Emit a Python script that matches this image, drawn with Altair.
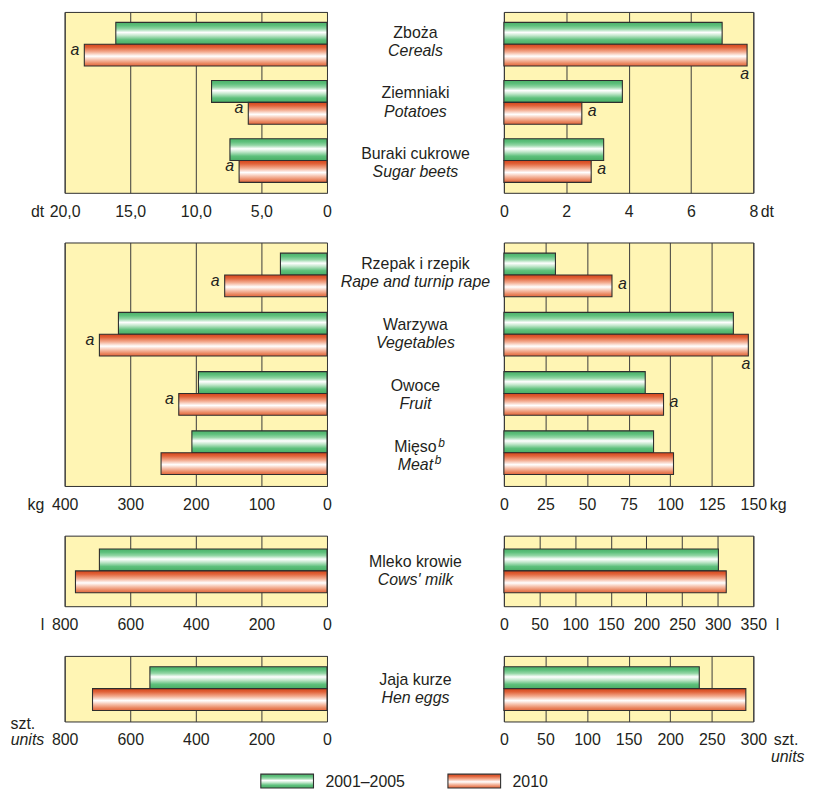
import altair as alt
import pandas as pd

FONT = "Liberation Sans"
TXT = "#231f20"
GRID = "#3a3a3a"
PANEL_BG = "#fff5b4"
EDGE = "#2e2e2e"

SERIES = ["2001–2005", "2010"]

cat_pl = ["Zboża", "Ziemniaki", "Buraki cukrowe", "Rzepak i rzepik", "Warzywa",
          "Owoce", "Mięso", "Mleko krowie", "Jaja kurze"]
cat_en = ["Cereals", "Potatoes", "Sugar beets", "Rape and turnip rape", "Vegetables",
          "Fruit", "Meat", "Cows' milk", "Hen eggs"]
cat_sup = ["", "", "", "", "", "", "b", "", ""]
cat_group = [1, 1, 1, 2, 2, 2, 2, 3, 4]

left_2001_2005 = [16.1, 8.8, 7.4, 71, 318, 196, 206, 694, 540]
left_2010 = [18.5, 6.0, 6.7, 156, 347, 226, 253, 767, 715]
right_2001_2005 = [7.0, 3.8, 3.2, 31, 138, 85, 90, 301, 235]
right_2010 = [7.8, 2.5, 2.8, 65, 147, 96, 102, 312, 291]

# footnote "a" on the 2010 bars ("a" beside the bar end, "a_below" under it)
note_left = ["a", "a", "a", "a", "a", "a", "", "", ""]
note_right = ["a_below", "a", "a", "a", "a_below", "a", "", "", ""]

left_domain = {1: [0, 20], 2: [0, 400], 3: [0, 800], 4: [0, 800]}
left_ticks = {1: [0, 5, 10, 15, 20], 2: [0, 100, 200, 300, 400],
              3: [0, 200, 400, 600, 800], 4: [0, 200, 400, 600, 800]}
right_domain = {1: [0, 8], 2: [0, 150], 3: [0, 350], 4: [0, 300]}
right_ticks = {1: [0, 2, 4, 6, 8], 2: [0, 25, 50, 75, 100, 125, 150],
               3: [0, 50, 100, 150, 200, 250, 300, 350], 4: [0, 50, 100, 150, 200, 250, 300]}
unit_main = {1: "dt", 2: "kg", 3: "l", 4: "szt."}
unit_sub = "units"

# ---------------- long table ----------------
rows = []
for i, c in enumerate(cat_pl):
    for side, v1, v2, notes in (("left", left_2001_2005, left_2010, note_left),
                                ("right", right_2001_2005, right_2010, note_right)):
        rows.append(dict(cat=c, group=cat_group[i], side=side, series=SERIES[0], value=v1[i], note=""))
        rows.append(dict(cat=c, group=cat_group[i], side=side, series=SERIES[1], value=v2[i], note=notes[i]))
df = pd.DataFrame(rows)
lab = pd.DataFrame(dict(cat=cat_pl, en=cat_en, sup=cat_sup, group=cat_group))

HEIGHT = {1: 182, 2: 245, 3: 71, 4: 66}
PADS = {1: (0.25, 0.18), 2: (0.25, 0.18), 3: (0.0, 0.307), 4: (0.0, 0.25)}
WL, WC, WR = 264, 178, 251


def grad(stops):
    return alt.LinearGradient(gradient="linear", x1=0, x2=0, y1=0, y2=1,
                              stops=[alt.GradientStop(offset=o, color=c) for o, c in stops])


G_GREEN = grad([(0, "#4cb169"), (0.15, "#5ec07c"), (0.3, "#93d6a5"), (0.46, "#ffffff"),
                (0.6, "#c4e8cd"), (0.8, "#5ec07c"), (1, "#49ad65")])
G_ORANGE = grad([(0, "#d5441a"), (0.15, "#e1633a"), (0.35, "#f3ab8f"), (0.55, "#ffffff"),
                 (0.72, "#f6c0aa"), (0.88, "#ea8862"), (1, "#e1653c")])


def y_enc(group, axis=None):
    cats = [c for c, g in zip(cat_pl, cat_group) if g == group]
    pi, po = PADS[group]
    return alt.Y("cat:N", sort=cats,
                 scale=alt.Scale(domain=cats, paddingInner=pi, paddingOuter=po),
                 axis=axis)


def axis_common(**kw):
    base = dict(grid=True, gridColor=GRID, gridWidth=1, gridOpacity=1, domain=False, ticks=False,
                labelFlush=False, labelOverlap=False, labelPadding=23.5, labelBaseline="alphabetic",
                labelFontSize=16, labelColor=TXT, labelFont=FONT,
                titleFontSize=16, titleFontWeight="normal", titleColor=TXT, titleFont=FONT,
                titleAngle=0, titleBaseline="alphabetic")
    base.update(kw)
    return alt.Axis(**base)


def panel(group, side):
    H = HEIGHT[group]
    W = WL if side == "left" else WR
    d = df[(df.group == group) & (df.side == side)]
    if side == "left":
        dom, ticks = left_domain[group], left_ticks[group]
        expr = ("datum.value == 0 ? '0' : replace(format(datum.value, '.1f'), '.', ',')"
                if group == 1 else "format(datum.value, 'd')")
        if group == 4:
            xaxis = axis_common(values=ticks, labelExpr=expr, title=unit_sub, titleFontStyle="italic",
                                titleX=-21, titleY=23.5, titleAlign="right")
            yaxis = alt.Axis(labels=False, ticks=False, domain=False, grid=False, title=unit_main[4],
                             titleAngle=0, titleX=-55, titleY=H + 7, titleAlign="left",
                             titleBaseline="alphabetic", titleFontSize=16, titleFontWeight="normal",
                             titleColor=TXT, titleFont=FONT)
        else:
            xaxis = axis_common(values=ticks, labelExpr=expr, title=unit_main[group],
                                titleX=-21, titleY=23.5, titleAlign="right")
            yaxis = None
    else:
        dom, ticks = right_domain[group], right_ticks[group]
        expr = "format(datum.value, 'd')"
        off = {1: 7, 2: 16, 3: 22, 4: 20}[group]
        xaxis = axis_common(values=ticks, labelExpr=expr, title=unit_main[group],
                            titleX=W + off, titleY=23.5, titleAlign="left")
        if group == 4:
            yaxis = alt.Axis(orient="right", labels=False, ticks=False, domain=False, grid=False,
                             title=unit_sub, titleFontStyle="italic", titleAngle=0, titleX=51,
                             titleY=H + 40, titleAlign="right", titleBaseline="alphabetic",
                             titleFontSize=16, titleFontWeight="normal", titleColor=TXT, titleFont=FONT)
        else:
            yaxis = None

    base = alt.Chart(d).encode(
        y=y_enc(group, yaxis),
        yOffset=alt.YOffset("series:N", sort=SERIES,
                            scale=alt.Scale(domain=SERIES, paddingInner=0, paddingOuter=0)),
        x=alt.X("value:Q", scale=alt.Scale(domain=dom, reverse=(side == "left"), nice=False, zero=True),
                axis=xaxis),
    )
    b1 = base.transform_filter(alt.datum.series == SERIES[0]).mark_bar(
        fill=G_GREEN, stroke=EDGE, strokeWidth=1.1)
    b2 = base.transform_filter(alt.datum.series == SERIES[1]).mark_bar(
        fill=G_ORANGE, stroke=EDGE, strokeWidth=1.1)
    layers = [b1, b2]
    if side == "left":
        layers.append(base.transform_filter(alt.datum.note == "a").mark_text(
            text="a", fontStyle="italic", fontSize=16, font=FONT, color=TXT,
            align="right", baseline="middle", dx=-5, dy=-5))
    else:
        layers.append(base.transform_filter(alt.datum.note == "a").mark_text(
            text="a", fontStyle="italic", fontSize=16, font=FONT, color=TXT,
            align="left", baseline="middle", dx=6, dy=-2))
        layers.append(base.transform_filter(alt.datum.note == "a_below").mark_text(
            text="a", fontStyle="italic", fontSize=16, font=FONT, color=TXT,
            align="right", baseline="middle", dx=2, dy=19))
    return alt.layer(*layers).properties(
        width=W, height=H,
        view=alt.ViewBackground(fill=PANEL_BG, stroke=EDGE, strokeWidth=1))


def center(group):
    d = lab[lab.group == group]
    base = alt.Chart(d).encode(y=y_enc(group))
    pl = base.mark_text(fontSize=16, font=FONT, color=TXT, baseline="alphabetic", dy=-4).encode(text="cat:N")
    en = base.mark_text(fontSize=16, font=FONT, color=TXT, fontStyle="italic",
                        baseline="alphabetic", dy=14.5).encode(text="en:N")
    s1 = base.transform_filter(alt.datum.sup != "").mark_text(
        fontSize=12, font=FONT, color=TXT, fontStyle="italic", align="left",
        baseline="alphabetic", dx=23, dy=-9).encode(text="sup:N")
    s2 = base.transform_filter(alt.datum.sup != "").mark_text(
        fontSize=12, font=FONT, color=TXT, fontStyle="italic", align="left",
        baseline="alphabetic", dx=19.5, dy=8.5).encode(text="sup:N")
    return alt.layer(pl, en, s1, s2).properties(
        width=WC, height=HEIGHT[group],
        view=alt.ViewBackground(stroke="transparent", strokeWidth=0))


def legend():
    ld = pd.DataFrame(dict(series=SERIES))
    base = alt.Chart(ld).encode(
        x=alt.X("series:N", sort=SERIES, axis=None,
                scale=alt.Scale(domain=SERIES, range=[197.4, 438.7], paddingInner=0.7185, paddingOuter=0)))
    sw = base.mark_bar(stroke=EDGE, strokeWidth=1.1, yOffset=3).encode(
        fill=alt.condition(alt.datum.series == SERIES[0], alt.value(G_GREEN), alt.value(G_ORANGE)))
    t = base.mark_text(align="left", baseline="middle", dx=38.5, dy=2, fontSize=16,
                       font=FONT, color=TXT).encode(text="series:N")
    return alt.layer(sw, t).properties(
        width=WL, height=17, view=alt.ViewBackground(stroke="transparent", strokeWidth=0))


cells = []
for grp in (1, 2, 3, 4):
    cells += [panel(grp, "left"), center(grp), panel(grp, "right")]
cells.append(legend())

chart = alt.concat(*cells, columns=3, spacing={"row": 50, "column": 0}, bounds="flush").properties(
    padding={"left": 1, "top": 0.5, "right": 0, "bottom": 0},
    background="white",
).configure(font=FONT).configure_view(strokeWidth=0)

chart.save("out.html", embed_options={"renderer": "svg", "actions": False})
